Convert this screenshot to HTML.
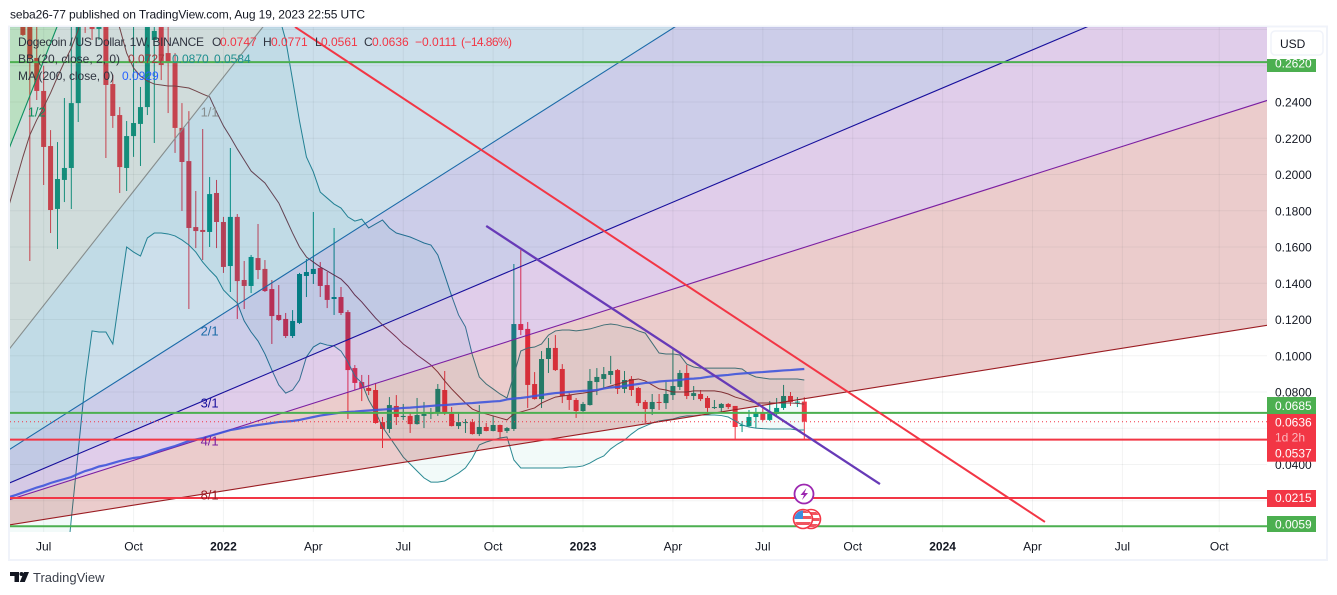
<!DOCTYPE html>
<html lang="en">
<head>
<meta charset="utf-8">
<title>Dogecoin / US Dollar chart</title>
<style>
html,body{margin:0;padding:0;background:#fff;width:1337px;height:595px;overflow:hidden}
svg{display:block;font-family:"Liberation Sans",sans-serif}
text{white-space:pre}
</style>
</head>
<body>
<svg id="chart" xmlns="http://www.w3.org/2000/svg" width="1337" height="595" viewBox="0 0 1337 595">
  <defs>
    <clipPath id="plot-clip"><rect x="10" y="27" width="1257" height="505"/></clipPath>
    <clipPath id="flag-a"><circle cx="803" cy="519" r="8.5"/></clipPath>
    <clipPath id="flag-b"><circle cx="811" cy="519" r="8.5"/></clipPath>
  </defs>
  <text x="10" y="18.5" font-size="12" textLength="355" lengthAdjust="spacing" fill="#131722">seba26-77 published on TradingView.com, Aug 19, 2023 22:55 UTC</text>
  <rect x="9" y="26.5" width="1318" height="533.5" fill="#fff" stroke="#f0f3fa" stroke-width="2"/>
  <g id="plot" clip-path="url(#plot-clip)">
    <g id="candles"></g>
    <g id="indicators"></g>
    <g id="fan"></g>
    <g id="grid"></g>
    <g id="ma-layer"></g>
    <g id="levels"></g>
    <g id="trends"></g>
  </g>
  <g id="fan-labels" font-size="13"></g>
  <g id="price-axis" font-size="12" fill="#131722"></g>
  <g id="time-axis" font-size="12" fill="#131722" text-anchor="middle"></g>
  <g id="price-labels" font-size="12" fill="#fff"></g>

  <g font-size="12">
    <text x="18" y="46" textLength="186" lengthAdjust="spacing" fill="#2f3440">Dogecoin / US Dollar, 1W, BINANCE</text>
    <text x="212" y="46" fill="#2f3440">O</text>
    <text x="220" y="46" fill="#f23645">0.0747</text>
    <text x="263" y="46" fill="#2f3440">H</text>
    <text x="271" y="46" fill="#f23645">0.0771</text>
    <text x="315" y="46" fill="#2f3440">L</text>
    <text x="321" y="46" fill="#f23645">0.0561</text>
    <text x="364" y="46" fill="#2f3440">C</text>
    <text x="372" y="46" fill="#f23645">0.0636</text>
    <text x="415" y="46" fill="#f23645">−0.0111</text>
    <text x="461" y="46" fill="#f23645" textLength="51" lengthAdjust="spacing">(−14.86%)</text>
    <text x="18" y="63" textLength="102" lengthAdjust="spacing" fill="#2f3440">BB (20, close, 2, 0)</text>
    <text x="128" y="63" fill="#a5383c">0.0727</text>
    <text x="172" y="63" fill="#1f8f8f">0.0870</text>
    <text x="214" y="63" fill="#1f8f8f">0.0584</text>
    <text x="18" y="80" textLength="96" lengthAdjust="spacing" fill="#2f3440">MA (200, close, 0)</text>
    <text x="122" y="80" fill="#2962ff">0.0929</text>
  </g>

  <g>
    <rect x="1271" y="31" width="52" height="24" rx="4" fill="#fff" stroke="#f0f3fa" stroke-width="1.5"/>
    <text x="1280" y="48" font-size="12" fill="#131722">USD</text>
  </g>

  <g>
    <circle cx="804" cy="494" r="9.5" fill="#fff" stroke="#9c27b0" stroke-width="1.8"/>
    <path d="M806.5 488 L800.5 495 H804 L802 500 L808 493 H804.5 Z" fill="#9c27b0"/>
  </g>
  <g>
    <g>
      <circle cx="811" cy="519" r="9.5" fill="#fff" stroke="#f23645" stroke-width="1.6"/>
      <g clip-path="url(#flag-b)">
        <rect x="802" y="512" width="18" height="3" fill="#f0555f"/>
        <rect x="802" y="518" width="18" height="3" fill="#f0555f"/>
        <rect x="802" y="524" width="18" height="3" fill="#f0555f"/>
      </g>
    </g>
    <g>
      <circle cx="803" cy="519" r="10" fill="#fff"/>
      <g clip-path="url(#flag-a)">
        <rect x="794" y="510" width="18" height="3" fill="#f0555f"/>
        <rect x="794" y="516" width="18" height="3" fill="#f0555f"/>
        <rect x="794" y="522" width="18" height="3" fill="#f0555f"/>
        <rect x="794" y="510" width="9" height="9" fill="#3d8fe0"/>
      </g>
      <circle cx="803" cy="519" r="9.5" fill="none" stroke="#f23645" stroke-width="1.6"/>
    </g>
  </g>

  <g>
    <path d="M10 572 h9 v10 h-4.5 v-6 H10 Z M29 572 l-4.2 10 h-5 l4.2 -10 Z" fill="#131722"/>
    <circle cx="21.5" cy="574" r="2" fill="#131722"/>
    <text x="33" y="582" font-size="13" fill="#3a3f4a">TradingView</text>
  </g>
</svg>
<script>
const opens = [.3200,.3200,.3300,.2820,.2643,.2461,.2157,.1810,.1970,.2036,.2394,.3100,.2900,.2803,.2950,.2499,.2328,.2036,.2212,.2279,.2372,.2742,.2900,.2670,.2615,.2257,.2074,.1710,.1694,.1683,.1898,.1738,.1495,.1766,.1418,.1385,.1539,.1479,.1368,.1225,.1203,.1109,.1181,.1440,.1451,.1484,.1390,.1313,.1324,.1241,.0932,.0855,.0822,.0811,.0634,.0596,.0723,.0662,.0668,.0623,.0668,.0682,.0684,.0811,.0679,.0612,.0629,.0634,.0568,.0607,.0585,.0618,.0585,.0596,.1175,.1148,.0844,.0761,.0982,.1043,.0927,.0783,.0756,.0695,.0728,.0855,.0872,.0894,.0921,.0817,.0872,.0822,.0745,.0706,.0745,.0739,.0783,.0828,.0905,.0778,.0789,.0767,.0712,.0712,.0734,.0723,.0612,.0612,.0662,.0684,.0646,.0679,.0712,.0778,.0745,.0747];
const highs = [.3400,.3500,.3500,.2950,.2850,.2600,.2245,.2179,.2422,.2830,.3000,.3200,.3000,.3050,.3100,.2550,.2372,.2295,.2900,.2483,.3000,.2900,.3000,.2850,.2670,.2394,.2350,.1909,.2251,.1986,.1970,.1766,.2146,.1782,.1523,.1556,.1727,.1528,.1418,.1390,.1236,.1252,.1457,.1534,.1793,.1517,.1462,.1705,.1379,.1252,.0949,.0894,.0894,.0850,.0662,.0772,.0783,.0734,.0684,.0767,.0745,.0712,.0844,.0916,.0717,.0684,.0651,.0651,.0728,.0629,.0668,.0620,.0607,.1506,.1583,.1186,.0910,.1026,.1098,.1114,.0954,.0794,.0767,.0745,.0927,.0932,.0938,.0999,.0927,.0916,.0888,.0828,.0756,.0789,.0789,.0855,.1037,.0921,.0949,.0833,.0811,.0778,.0756,.0739,.0739,.0723,.0640,.0701,.0712,.0712,.0750,.0767,.0839,.0800,.0772,.0771];
const lows = [.3000,.3000,.2765,.1523,.2411,.1942,.1677,.1589,.1848,.1810,.2290,.2781,.2742,.2742,.2091,.2257,.1898,.1909,.2097,.2047,.2328,.2174,.2521,.2339,.2119,.1799,.1258,.1594,.1528,.1600,.1594,.1457,.1352,.1203,.1258,.1346,.1423,.1352,.1065,.1192,.1098,.1098,.1175,.1324,.1396,.1324,.1263,.1225,.1225,.0651,.0811,.0750,.0783,.0625,.0491,.0574,.0618,.0646,.0574,.0620,.0601,.0651,.0668,.0673,.0610,.0596,.0574,.0565,.0557,.0583,.0583,.0546,.0574,.0585,.1114,.0712,.0758,.0712,.0905,.0916,.0739,.0701,.0657,.0690,.0725,.0783,.0822,.0844,.0789,.0794,.0778,.0723,.0629,.0673,.0701,.0706,.0756,.0811,.0761,.0756,.0750,.0690,.0706,.0684,.0706,.0541,.0579,.0607,.0601,.0640,.0640,.0673,.0701,.0723,.0717,.0540];
const closes = [.3100,.3300,.2770,.2643,.2461,.2152,.1804,.1975,.2036,.2394,.2850,.2900,.2803,.2950,.2494,.2323,.2041,.2212,.2284,.2372,.2850,.2792,.2604,.2615,.2257,.2069,.1705,.1688,.1683,.1892,.1738,.1490,.1766,.1412,.1385,.1545,.1473,.1357,.1219,.1197,.1109,.1192,.1451,.1462,.1479,.1385,.1308,.1324,.1236,.0921,.0850,.0822,.0806,.0629,.0596,.0728,.0662,.0668,.0623,.0673,.0679,.0684,.0817,.0684,.0612,.0634,.0634,.0568,.0607,.0585,.0618,.0579,.0601,.1175,.1142,.0839,.0761,.0982,.1043,.0921,.0778,.0756,.0695,.0734,.0861,.0883,.0899,.0916,.0817,.0866,.0811,.0739,.0706,.0745,.0740,.0789,.0833,.0905,.0778,.0794,.0761,.0712,.0717,.0734,.0717,.0607,.0618,.0662,.0684,.0646,.0679,.0712,.0778,.0745,.0747,.0636];

const bbBasis = [.1832,.1964,.2097,.2218,.2301,.2372,.2450,.2538,.2621,.2698,.2797,.3000,.3183,.3183,.3045,.2919,.2808,.2670,.2588,.2543,.2516,.2499,.2494,.2488,.2488,.2483,.2477,.2461,.2444,.2428,.2345,.2268,.2207,.2141,.2080,.2019,.1986,.1953,.1898,.1843,.1760,.1677,.1600,.1545,.1517,.1490,.1468,.1445,.1423,.1385,.1335,.1297,.1252,.1208,.1170,.1137,.1103,.1065,.1037,.1004,.0977,.0949,.0910,.0861,.0817,.0778,.0739,.0706,.0690,.0679,.0668,.0657,.0646,.0679,.0690,.0701,.0712,.0739,.0756,.0772,.0778,.0783,.0789,.0794,.0800,.0806,.0822,.0833,.0844,.0855,.0866,.0872,.0861,.0839,.0817,.0811,.0800,.0800,.0800,.0806,.0806,.0806,.0806,.0800,.0789,.0772,.0761,.0750,.0739,.0739,.0739,.0739,.0739,.0739,.0737,.0733];
const bbUpperStartBar = 39;
const bbUpper = [.2880,.2742,.2521,.2295,.2097,.2014,.1903,.1870,.1837,.1815,.1766,.1743,.1754,.1705,.1727,.1749,.1705,.1677,.1666,.1655,.1639,.1622,.1611,.1556,.1445,.1330,.1225,.1159,.1004,.0883,.0844,.0817,.0789,.0767,.0894,.1026,.1043,.1048,.1065,.1114,.1137,.1142,.1142,.1137,.1142,.1148,.1159,.1170,.1175,.1170,.1159,.1153,.1137,.1125,.1070,.1015,.1010,.1010,.1004,.0954,.0938,.0932,.0932,.0932,.0932,.0932,.0932,.0927,.0899,.0883,.0877,.0872,.0872,.0872,.0872,.0872,.0866];
const bbLowerStartBar = 8;
const bbLower = [-.0290,.0099,.0474,.0855,.1137,.1131,.1131,.1065,.1335,.1600,.1572,.1550,.1650,.1677,.1677,.1672,.1661,.1639,.1611,.1572,.1517,.1473,.1434,.1363,.1324,.1291,.1192,.1131,.1081,.1010,.0921,.0839,.0794,.0811,.0866,.0993,.1048,.1070,.1059,.1054,.1026,.0966,.0888,.0850,.0756,.0690,.0607,.0552,.0497,.0441,.0403,.0364,.0326,.0303,.0303,.0309,.0331,.0353,.0381,.0436,.0508,.0524,.0535,.0546,.0552,.0425,.0381,.0381,.0381,.0381,.0381,.0381,.0381,.0386,.0386,.0392,.0408,.0430,.0447,.0486,.0513,.0535,.0568,.0596,.0612,.0629,.0640,.0646,.0651,.0662,.0668,.0668,.0673,.0673,.0673,.0670,.0662,.0640,.0618,.0607,.0601,.0598,.0596,.0596,.0596,.0596,.0590,.0590];
const ma200 = [.0220,.0232,.0246,.0259,.0273,.0284,.0298,.0309,.0320,.0331,.0348,.0364,.0375,.0389,.0397,.0408,.0419,.0428,.0436,.0441,.0452,.0466,.0480,.0491,.0502,.0516,.0530,.0538,.0546,.0557,.0568,.0579,.0590,.0596,.0604,.0612,.0618,.0623,.0629,.0634,.0637,.0640,.0646,.0654,.0662,.0670,.0676,.0681,.0687,.0690,.0692,.0695,.0698,.0701,.0703,.0706,.0709,.0712,.0714,.0717,.0720,.0723,.0726,.0728,.0731,.0734,.0737,.0739,.0742,.0745,.0748,.0750,.0759,.0764,.0767,.0772,.0778,.0783,.0789,.0794,.0797,.0800,.0803,.0806,.0808,.0811,.0819,.0825,.0828,.0833,.0839,.0844,.0850,.0852,.0858,.0861,.0863,.0866,.0872,.0874,.0877,.0883,.0888,.0891,.0894,.0899,.0902,.0905,.0908,.0910,.0913,.0916,.0919,.0921,.0924,.0927];

const gridPrices = [.28,.26,.24,.22,.20,.18,.16,.14,.12,.10,.08,.06,.04,.02];
const priceTicks = [.26,.24,.22,.20,.18,.16,.14,.12,.10,.08,.06,.04,.02];
const timeTickBars = [5,18,31,44,57,70,83,96,109,122,135,148,161,175];
const timeTickLabels = ['Jul','Oct','2022','Apr','Jul','Oct','2023','Apr','Jul','Oct','2024','Apr','Jul','Oct'];
const timeTickBold = [false,false,true,false,false,false,true,false,false,false,true,false,false,false];

const fanOriginBar = -22.86;
const fanOriginPrice = -0.0072;
const fanBasePricePerBar = 0.004845;
const fanLabels = ['1/2','1/1','2/1','3/1','4/1','8/1'];
const fanDivisors = [0.5,1,2,3,4,8];
const fanLineColors = ['#0b8f5f','#868d8d','#1a6aa8','#170f9c','#7b1fa2','#9b1c22'];
const fanFillColors = ['rgba(0,135,10,.23)','rgba(75,100,100,.2)','rgba(0,95,155,.2)','rgba(0,5,145,.2)','rgba(100,5,150,.2)','rgba(155,0,0,.2)'];
const fanLabelBars = [4,29,29,29,29,29];
const fanLabelPrices = [.2345,.2345,.1137,.0739,.0530,.0232];

const levelPrices = [.2620,.0685,.0537,.0215,.0059];
const levelColors = ['#4caf50','#4caf50','#f23645','#f23645','#4caf50'];
const lastPrice = .0636;

const redTrendBars = [41.35,149.8];
const redTrendPrices = [.2814,.0083];
const purpleTrendBars = [69.0,125.94];
const purpleTrendPrices = [.1716,.0292];

const SVGNS = 'http://www.w3.org/2000/svg';
const PLOT_LEFT = 10, PLOT_RIGHT = 1267, PLOT_BOTTOM = 532;
function xBar(b){ return 9.08 + 6.915 * b; }
function yPrice(p){ return 537 - p * 1812.5; }
function mk(parent, tag, attrs){
  const el = document.createElementNS(SVGNS, tag);
  for (const k in attrs) el.setAttribute(k, attrs[k]);
  parent.appendChild(el);
  return el;
}
function pathFrom(values, startBar){
  return values.map((v,i)=>(i?'L':'M')+xBar(startBar+i).toFixed(2)+' '+yPrice(v).toFixed(2)).join(' ');
}

/* grid */
const gridG = document.getElementById('grid');
timeTickBars.forEach(b=>{
  const l = mk(gridG,'line',{x1:xBar(b),x2:xBar(b),y1:27,y2:PLOT_BOTTOM,stroke:'rgba(42,46,57,.06)','stroke-width':1});
  
  
});
gridPrices.forEach(p=>{
  const l = mk(gridG,'line',{x1:PLOT_LEFT,x2:PLOT_RIGHT,y1:yPrice(p),y2:yPrice(p),stroke:'rgba(42,46,57,.06)','stroke-width':1});
  
  
});

/* candles */
const candleG = document.getElementById('candles');
closes.forEach((c,i)=>{
  const o = opens[i], col = c >= o ? '#089981' : '#f23645', cx = xBar(i);
  const g = mk(candleG,'g',{});
  
  
  const w = mk(g,'line',{x1:cx,x2:cx,y1:yPrice(highs[i]),y2:yPrice(lows[i]),stroke:col,'stroke-width':1});
  
  
  const top = yPrice(Math.max(o,c)), bot = yPrice(Math.min(o,c));
  const r = mk(g,'rect',{x:cx-2.5,y:top,width:5,height:Math.max(1,bot-top),fill:col});
  
  
});

/* indicators */
const indG = document.getElementById('indicators');
const lowerPts = bbLower.map((v,i)=>xBar(bbLowerStartBar+i).toFixed(2)+','+yPrice(v).toFixed(2));
const upperPts = bbUpper.map((v,i)=>xBar(bbUpperStartBar+i).toFixed(2)+','+yPrice(v).toFixed(2)).reverse();
/* the band runs off both chart edges on the left, so everything left of the lower line is inside it */
const bbFill = mk(indG,'polygon',{points:lowerPts.concat(upperPts,[xBar(bbUpperStartBar)+',0','0,0','0,'+yPrice(bbLower[0]),xBar(bbLowerStartBar)+','+yPrice(bbLower[0])]).join(' '),fill:'rgba(0,150,136,.05)'});


const basisLine = mk(indG,'path',{d:pathFrom(bbBasis,0),fill:'none',stroke:'#7c3d42','stroke-width':1});


const upperLine = mk(indG,'path',{d:pathFrom(bbUpper,bbUpperStartBar),fill:'none',stroke:'#2b8a93','stroke-width':1});


const lowerLine = mk(indG,'path',{d:pathFrom(bbLower,bbLowerStartBar),fill:'none',stroke:'#2b8a93','stroke-width':1});


const maG = document.getElementById('ma-layer');
const maLine = mk(maG,'path',{d:pathFrom(ma200,0),fill:'none',stroke:'#3f55dc','stroke-width':2.2,'stroke-opacity':.9});



/* fan */
const fanG = document.getElementById('fan');
const farBar = 183;
function fanPrice(bar, div){ return fanOriginPrice + (bar - fanOriginBar) * fanBasePricePerBar / div; }
const ox = xBar(fanOriginBar), oy = yPrice(fanOriginPrice);
fanDivisors.forEach((d,i)=>{
  const fx = xBar(farBar), fy = yPrice(fanPrice(farBar,d));
  let pts;
  if (i === 0) pts = ox+','+oy+' '+fx+','+fy+' '+ox+','+fy;
  else pts = ox+','+oy+' '+fx+','+fy+' '+fx+','+yPrice(fanPrice(farBar,fanDivisors[i-1]));
  const f = mk(fanG,'polygon',{points:pts,fill:fanFillColors[i]});
  
  
});
fanDivisors.forEach((d,i)=>{
  const l = mk(fanG,'line',{x1:ox,y1:oy,x2:xBar(farBar),y2:yPrice(fanPrice(farBar,d)),stroke:fanLineColors[i],'stroke-width':1.1});
  
  
});
const fanLabelG = document.getElementById('fan-labels');
fanLabels.forEach((t,i)=>{
  const el = mk(fanLabelG,'text',{x:xBar(fanLabelBars[i]),y:yPrice(fanLabelPrices[i])+4.5,fill:fanLineColors[i],'text-anchor':'middle'});
  
  
  el.textContent = t;
});

/* levels */
const levelG = document.getElementById('levels');
levelPrices.forEach((p,i)=>{
  const l = mk(levelG,'line',{x1:PLOT_LEFT,x2:PLOT_RIGHT,y1:yPrice(p),y2:yPrice(p),stroke:levelColors[i],'stroke-width':2});
  
  
});
const lastLine = mk(levelG,'line',{x1:PLOT_LEFT,x2:PLOT_RIGHT,y1:yPrice(lastPrice),y2:yPrice(lastPrice),stroke:'#f23645','stroke-width':1,'stroke-dasharray':'1 3'});



/* trends */
const trendG = document.getElementById('trends');
const redTrend = mk(trendG,'line',{x1:xBar(redTrendBars[0]),y1:yPrice(redTrendPrices[0]),x2:xBar(redTrendBars[1]),y2:yPrice(redTrendPrices[1]),stroke:'#f23645','stroke-width':2});


const purpleTrend = mk(trendG,'line',{x1:xBar(purpleTrendBars[0]),y1:yPrice(purpleTrendPrices[0]),x2:xBar(purpleTrendBars[1]),y2:yPrice(purpleTrendPrices[1]),stroke:'#673ab7','stroke-width':2.3});



/* axes */
const priceG = document.getElementById('price-axis');
priceTicks.forEach(p=>{
  const t = mk(priceG,'text',{x:1275,y:yPrice(p)+4.5});
  
  
  t.textContent = p.toFixed(4);
});
const timeG = document.getElementById('time-axis');
timeTickBars.forEach((b,i)=>{
  const t = mk(timeG,'text',{x:xBar(b),y:550.5,'font-weight':timeTickBold[i]?'700':'400'});
  
  
  t.textContent = timeTickLabels[i];
});

/* price labels on the axis */
const labelG = document.getElementById('price-labels');
const boxTops = [59,397,414,490,516];
const boxBottoms = [72,414,461.7,507,532];
levelPrices.forEach((p,i)=>{
  const r = mk(labelG,'rect',{x:1267,y:boxTops[i],width:49,height:boxBottoms[i]-boxTops[i],fill:levelColors[i]});
  
  
});
const labelTextY = [67.5,410,457.5,502,528.5];
levelPrices.forEach((p,i)=>{
  const t = mk(labelG,'text',{x:1275,y:labelTextY[i]});
  
  
  t.textContent = p.toFixed(4);
});
const lastText = mk(labelG,'text',{x:1275,y:426.5});


lastText.textContent = lastPrice.toFixed(4);
const countdown = mk(labelG,'text',{x:1275,y:441.5,fill:'rgba(255,255,255,.65)'});


countdown.textContent = '1d 2h';
</script>
</body>
</html>
